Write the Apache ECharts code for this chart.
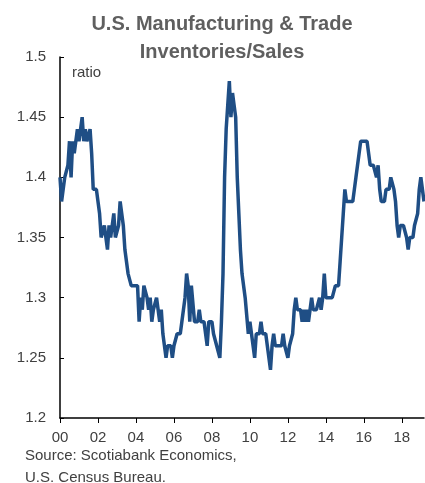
<!DOCTYPE html>
<html>
<head>
<meta charset="utf-8">
<script src="https://cdn.jsdelivr.net/npm/echarts@6/dist/echarts.min.js"></script>
<style>
  html, body { margin: 0; padding: 0; background: #fff; }
  #chart { width: 425px; height: 483px; }
</style>
</head>
<body>
<div id="chart"></div>
<script>
// monthly inventories/sales ratio, Jan 2000 .. Mar 2019
var r2000 = [1.40, 1.38, 1.38, 1.40, 1.40, 1.41, 1.43, 1.40, 1.43, 1.42, 1.42, 1.44];
var r2001 = [1.43, 1.43, 1.45, 1.43, 1.44, 1.43, 1.43, 1.44, 1.42, 1.39, 1.39, 1.39];
var r2002 = [1.38, 1.37, 1.35, 1.35, 1.36, 1.35, 1.34, 1.36, 1.35, 1.35, 1.37, 1.35];
var r2003 = [1.35, 1.36, 1.38, 1.37, 1.36, 1.34, 1.33, 1.32, 1.32, 1.31, 1.31, 1.31];
var r2004 = [1.31, 1.31, 1.28, 1.30, 1.29, 1.31, 1.31, 1.30, 1.29, 1.30, 1.28, 1.29];
var r2005 = [1.29, 1.30, 1.30, 1.28, 1.29, 1.27, 1.26, 1.25, 1.26, 1.26, 1.26, 1.25];
var r2006 = [1.26, 1.26, 1.27, 1.27, 1.27, 1.28, 1.29, 1.30, 1.32, 1.31, 1.28, 1.31];
var r2007 = [1.31, 1.28, 1.28, 1.28, 1.29, 1.28, 1.28, 1.28, 1.27, 1.26, 1.28, 1.28];
var r2008 = [1.28, 1.27, 1.27, 1.26, 1.26, 1.25, 1.28, 1.32, 1.40, 1.44, 1.46, 1.48];
var r2009 = [1.45, 1.47, 1.46, 1.45, 1.40, 1.37, 1.34, 1.32, 1.32, 1.30, 1.30, 1.27];
var r2010 = [1.28, 1.28, 1.26, 1.25, 1.27, 1.27, 1.27, 1.28, 1.27, 1.27, 1.27, 1.26];
var r2011 = [1.25, 1.24, 1.26, 1.27, 1.26, 1.26, 1.26, 1.26, 1.26, 1.27, 1.26, 1.26];
var r2012 = [1.25, 1.26, 1.26, 1.27, 1.29, 1.30, 1.29, 1.29, 1.29, 1.28, 1.29, 1.28];
var r2013 = [1.29, 1.28, 1.29, 1.30, 1.29, 1.29, 1.29, 1.29, 1.30, 1.29, 1.30, 1.32];
var r2014 = [1.30, 1.30, 1.30, 1.30, 1.30, 1.30, 1.31, 1.31, 1.31, 1.33, 1.35, 1.37];
var r2015 = [1.39, 1.38, 1.38, 1.38, 1.38, 1.38, 1.39, 1.40, 1.41, 1.42, 1.43, 1.43];
var r2016 = [1.43, 1.43, 1.43, 1.43, 1.41, 1.41, 1.41, 1.41, 1.40, 1.41, 1.39, 1.38];
var r2017 = [1.38, 1.38, 1.39, 1.39, 1.39, 1.40, 1.40, 1.39, 1.38, 1.36, 1.35, 1.36];
var r2018 = [1.36, 1.36, 1.36, 1.35, 1.34, 1.35, 1.35, 1.35, 1.36, 1.36, 1.37, 1.39];
var r2019 = [1.40, 1.40, 1.38];

var yearly = [r2000, r2001, r2002, r2003, r2004, r2005, r2006, r2007, r2008, r2009,
              r2010, r2011, r2012, r2013, r2014, r2015, r2016, r2017, r2018, r2019];

var months = [];
var ratio = [];
yearly.forEach(function (arr, i) {
    arr.forEach(function (v, j) {
        months.push((2000 + i) + '-' + (j < 9 ? '0' : '') + (j + 1));
        ratio.push(v);
    });
});

var font = 'Liberation Sans, Arial, sans-serif';
var chart = echarts.init(document.getElementById('chart'));

chart.setOption({
    animation: false,
    title: {
        text: 'U.S. Manufacturing & Trade\nInventories/Sales',
        left: 222,
        top: 10,
        padding: 0,
        textAlign: 'center',
        textStyle: {
            fontFamily: font,
            fontSize: 20,
            fontWeight: 'bold',
            color: '#5f5f5f',
            lineHeight: 28
        }
    },
    grid: { left: 60, right: 1, top: 57, bottom: 65 },
    xAxis: {
        type: 'category',
        data: months,
        boundaryGap: false,
        axisLine: { lineStyle: { color: '#000', width: 1.5 } },
        axisTick: { interval: 23, length: 5, lineStyle: { color: '#000' } },
        axisLabel: {
            interval: 23,
            margin: 12,
            fontFamily: font,
            fontSize: 15,
            color: '#404040',
            formatter: function (v) { return v.slice(2, 4); }
        },
        splitLine: { show: false }
    },
    yAxis: {
        type: 'value',
        min: 1.2,
        max: 1.5,
        interval: 0.05,
        axisLine: { show: true, lineStyle: { color: '#000', width: 1.5 } },
        axisTick: { show: true, inside: true, length: 4, lineStyle: { color: '#000' } },
        axisLabel: {
            margin: 14,
            fontFamily: font,
            fontSize: 15,
            color: '#404040',
            formatter: function (v) { return String(parseFloat(v.toFixed(2))); }
        },
        splitLine: { show: false }
    },
    graphic: [
        {
            type: 'text',
            left: 72,
            top: 65,
            style: { text: 'ratio', fontFamily: font, fontSize: 15, fill: '#404040' }
        },
        {
            type: 'text',
            left: 25,
            top: 445,
            style: {
                text: 'Source: Scotiabank Economics,\nU.S. Census Bureau.',
                fontFamily: font,
                fontSize: 15,
                lineHeight: 22,
                fill: '#404040'
            }
        }
    ],
    series: [
        {
            type: 'line',
            data: ratio,
            showSymbol: false,
            symbol: 'none',
            lineStyle: { color: '#1f4e85', width: 3.5 }
        }
    ]
});
</script>
</body>
</html>
